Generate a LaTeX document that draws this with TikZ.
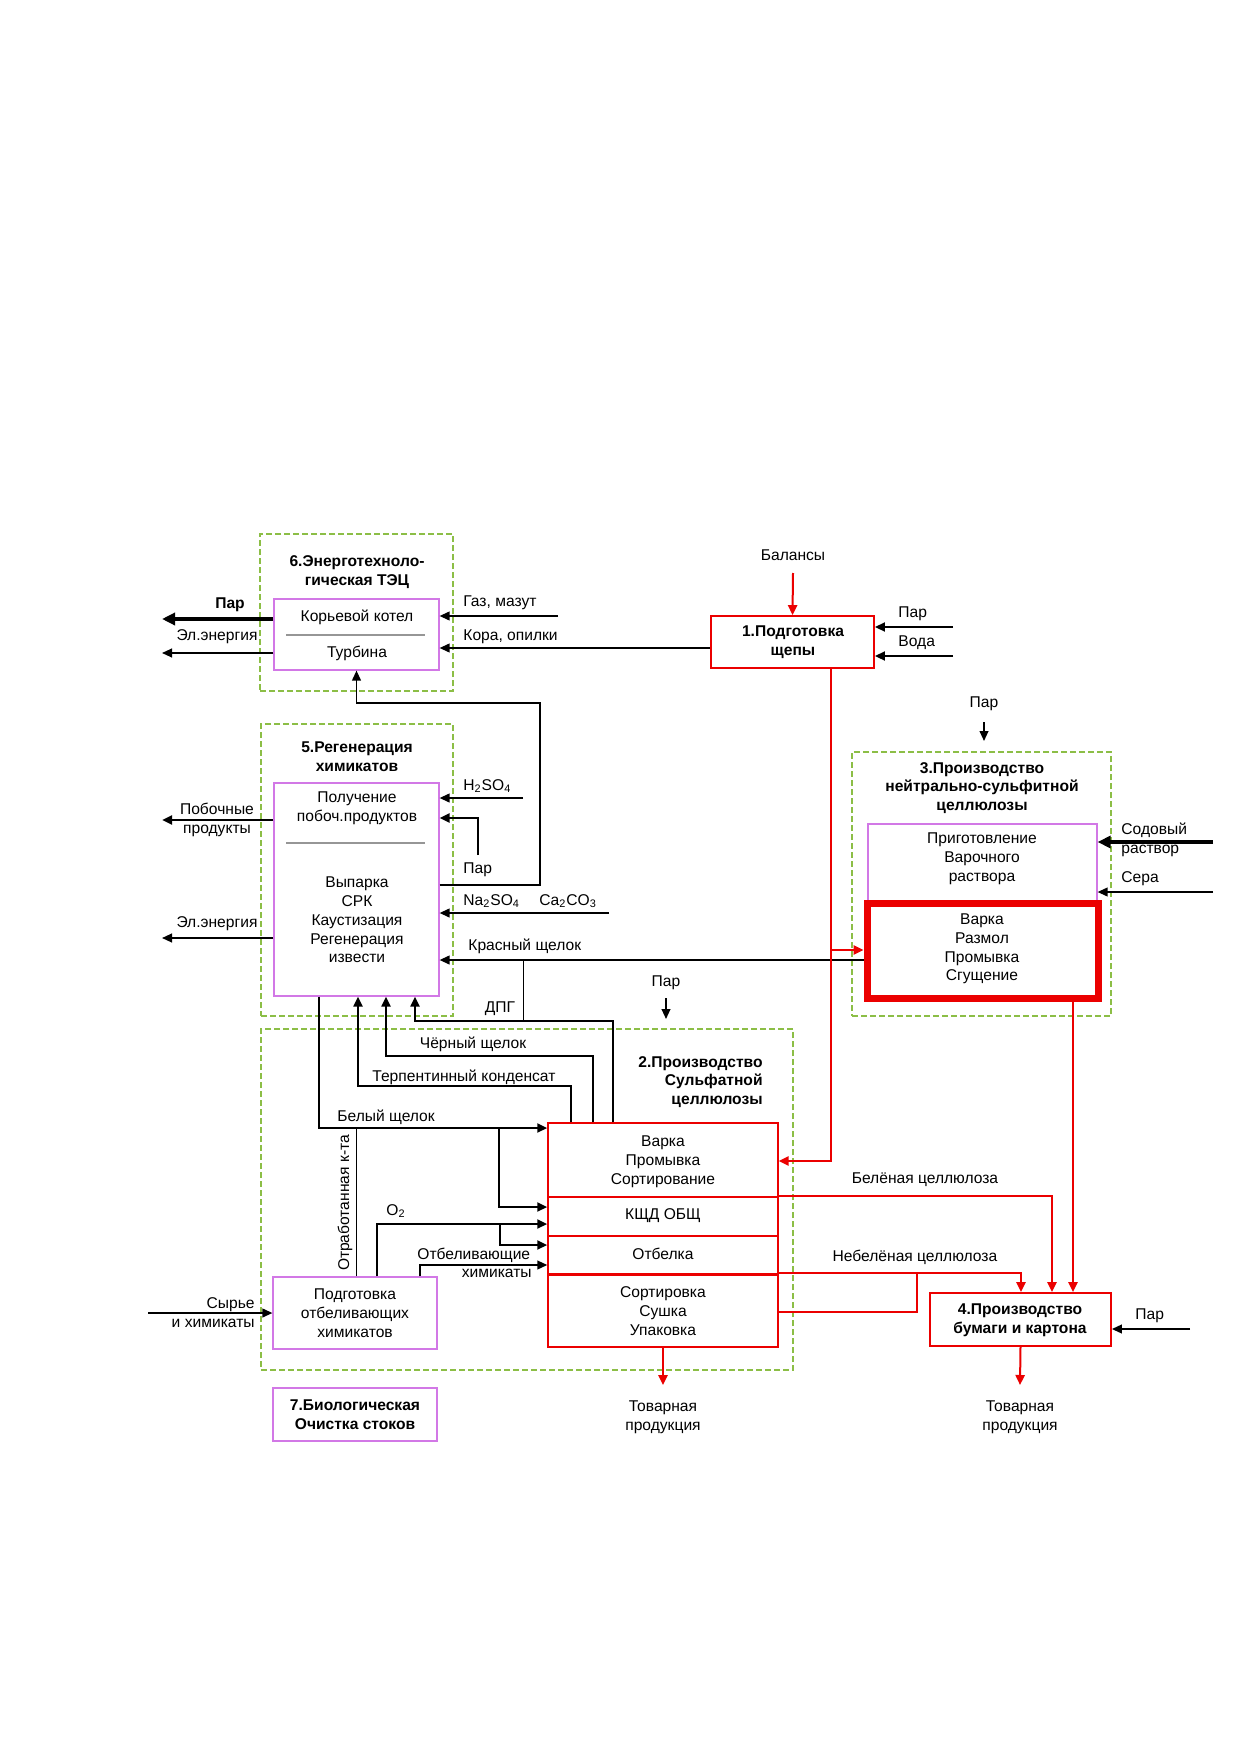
\documentclass[tikz,border=0pt]{standalone}
\usepackage{fontspec}
\setmainfont{Liberation Sans}
\usetikzlibrary{arrows.meta,fit}
\definecolor{grn}{RGB}{140,190,70}
\definecolor{vio}{RGB}{210,120,230}
\definecolor{sepgray}{RGB}{150,150,150}
\definecolor{rd}{RGB}{235,0,0}
\begin{document}
\begin{tikzpicture}[x=0.5pt,y=-0.5pt,
  every node/.style={font=\fontsize{7.8}{9.4}\selectfont, inner sep=0pt, align=center},
  bftxt/.style={font=\fontsize{7.8}{9.4}\selectfont\bfseries},
  grp/.style={draw=grn, dash pattern=on 3pt off 1.5pt, line width=0.6pt},
  vbox/.style={draw=vio, line width=0.6pt},
  rbox/.style={draw=rd, line width=0.7pt},
  ln/.style={draw=black, line width=0.8pt},
  thn/.style={draw=black, line width=0.5pt},
  tk/.style={draw=black, line width=1.3pt},
  vtk/.style={draw=black, line width=2pt},
  arr/.style={-{Triangle[length=5pt,width=4.4pt]}},
  barr/.style={-{Triangle[length=6.5pt,width=6pt]}},
  rl/.style={draw=rd, line width=1pt},
  rarr/.style={rl, -{Triangle[length=5pt,width=4.6pt]}},
]
\useasboundingbox (0,0) rectangle (1240,1754);
\fill[white] (0,0) rectangle (1240,1754);

% ---------- Group 6
\node[grp, fit={(260,534) (453,691)}] (g6) {};
\node[bftxt] (t6) at (357,572) {6.Энерготехноло-\\гическая ТЭЦ};
\node[vbox, fit={(274,599) (439,670)}] (b6) {};
\node (b6a) at (357,617) {Корьевой котел};
\node (b6b) at (357,653) {Турбина};
\draw[sepgray, line width=0.6pt] (286,635) -- (425,635);

% ---------- Group 5
\node[grp, fit={(261,724) (453,1016)}] (g5) {};
\node[bftxt] (t5) at (357,757) {5.Регенерация\\химикатов};
\node[vbox, fit={(274,783) (439,996)}] (b5) {};
\node (b5a) at (357,808) {Получение\\побоч.продуктов};
\draw[sepgray, line width=0.6pt] (286,843) -- (425,843);
\node (b5b) at (357,920) {Выпарка\\СРК\\Каустизация\\Регенерация\\извести};

% ---------- Box 1
\node[rbox, line width=0.9pt, fit={(711,616) (874,668)}] (b1) {};
\node[bftxt] (t1) at (793,642) {1.Подготовка\\щепы};

% ---------- Group 3
\node[grp, fit={(852,752) (1111,1016)}] (g3) {};
\node[bftxt] (t3) at (982,788) {3.Производство\\нейтрально-сульфитной\\целлюлозы};
\node[vbox, fit={(868,824) (1097,902)}] (b3a) {};
\node (t3a) at (982,859) {Приготовление\\Варочного\\раствора};
\node[draw=rd, line width=3.5pt, fit={(867,903) (1098,998)}] (b3b) {};
\node (t3b) at (982,949) {Варка\\Размол\\Промывка\\Сгущение};

% ---------- Group 2
\node[grp, fit={(261,1029) (793,1370)}] (g2) {};
\node[bftxt, align=right, anchor=east] (t2) at (763,1082) {2.Производство\\Сульфатной\\целлюлозы};
\node[rbox, fit={(548,1123) (778,1197)}] (b2a) {};
\node[rbox, fit={(548,1197) (778,1236)}] (b2b) {};
\node[rbox, fit={(548,1236) (778,1274)}] (b2c) {};
\node[rbox, fit={(548,1274) (778,1347)}] (b2d) {};
\draw[rd, line width=1.6pt] (b2c.south west) -- (b2c.south east);
\node (t2a) at (663,1162) {Варка\\Промывка\\Сортирование};
\node (t2b) at (663,1216) {КЩД ОБЩ};
\node (t2c) at (663,1254) {Отбелка};
\node (t2d) at (663,1311) {Сортировка\\Сушка\\Упаковка};

% ---------- bleach prep
\node[vbox, fit={(273,1277) (437,1349)}] (bp) {};
\node (tbp) at (355,1313) {Подготовка\\отбеливающих\\химикатов};

% ---------- Box 4
\node[rbox, line width=0.9pt, fit={(930,1293) (1111,1346)}] (b4) {};
\node[bftxt] (t4) at (1020,1320) {4.Производство\\бумаги и картона};

% ---------- Box 7
\node[vbox, fit={(273,1388) (437,1441)}] (b7) {};
\node[bftxt] (t7) at (355,1415) {7.Биологическая\\Очистка стоков};

% ---------- labels
\node[bftxt] (lpar6) at (230,605) {Пар};
\node (lel6) at (217,637) {Эл.энергия};
\node[anchor=west] (lgaz) at (463,603) {Газ, мазут};
\node[anchor=west] (lkora) at (463,637) {Кора, опилки};
\node (lbal) at (793,555) {Балансы};
\node[anchor=west] (lpar1) at (898,614) {Пар};
\node[anchor=west] (lvoda) at (898,643) {Вода};
\node[anchor=west] (lh2so4) at (463,786) {H\textsubscript{2}SO\textsubscript{4}};
\node[anchor=west] (lpar5) at (463,870) {Пар};
\node[anchor=west] (lna) at (463,901) {Na\textsubscript{2}SO\textsubscript{4}};
\node[anchor=west] (lca) at (539,901) {Ca\textsubscript{2}CO\textsubscript{3}};
\node[anchor=west] (lkr) at (468,946) {Красный щелок};
\node (lpob) at (217,820) {Побочные\\продукты};
\node (lel5) at (217,924) {Эл.энергия};
\node (ldpg) at (500,1009) {ДПГ};
\node (lpar2) at (666,983) {Пар};
\node (lpar3) at (984,704) {Пар};
\node[anchor=west, align=left] (lsod) at (1121,840) {Содовый\\раствор};
\node[anchor=west] (lsera) at (1121,879) {Сера};
\node (lchsh) at (473,1044) {Чёрный щелок};
\node[anchor=west] (lterp) at (372,1077) {Терпентинный конденсат};
\node[anchor=west] (lbel) at (337,1117) {Белый щелок};
\node (lbc) at (925,1180) {Белёная целлюлоза};
\node (lnbc) at (915,1257) {Небелёная целлюлоза};
\node[rotate=90] (lotk) at (345,1203) {Отработанная к-та};
\node[anchor=west] (lo2) at (386,1211) {O\textsubscript{2}};
\node[anchor=west] (lotb) at (417,1255) {Отбеливающие};
\node[anchor=east] (lhim) at (532,1273) {химикаты};
\node[anchor=east, align=right] (lsyr) at (255,1313) {Сырье\\и химикаты};
\node[anchor=west] (lpar4) at (1135,1316) {Пар};
\node (ltov2) at (663,1417) {Товарная\\продукция};
\node (ltov4) at (1020,1417) {Товарная\\продукция};

% ---------- free ends
\coordinate (e6par) at (162,619);
\coordinate (e6el) at (162,653);
\coordinate (egaz) at (558,616);
\coordinate (e5pob) at (162,820);
\coordinate (e5el) at (162,938);
\coordinate (eh2) at (523,798);
\coordinate (epar5) at (478,855);
\coordinate (ena) at (609,913);
\coordinate (epar2) at (666,998);
\coordinate (epar2b) at (666,1019);
\coordinate (epar3) at (984,722);
\coordinate (epar3b) at (984,741);
\coordinate (esod) at (1213,842);
\coordinate (esera) at (1213,892);
\coordinate (epar1) at (953,627);
\coordinate (evoda) at (953,656);
\coordinate (epar4) at (1190,1329);
\coordinate (esyr) at (148,1313);
\coordinate (ebal) at (793,573);
\coordinate (eout2) at (663,1385);
\coordinate (eout4) at (1020,1385);
\coordinate (jdpg1) at (523,960);
\coordinate (jdpg2) at (523,1021);
\coordinate (jbel) at (499,1128);
\coordinate (jo2) at (500,1224);
\coordinate (jotk) at (356,1128);
\coordinate (jred) at (831,950);
\coordinate (jneb) at (917,1274);

% ---------- black connectors
\draw[vtk, barr] (b6.west |- e6par) -- (e6par);
\draw[ln, arr] (b6.west |- e6el) -- (e6el);
\draw[ln, arr] (egaz) -- (b6.east |- egaz);
\draw[ln, arr] (b1.west |- 0,648) -- (b6.east |- 0,648);
\draw[ln, arr] (b5.east |- 0,885) -| (540,703) -| (b6.south);
\draw[ln, arr] (eh2) -- (b5.east |- eh2);
\draw[tk, arr] (epar5) |- (b5.east |- 0,818);
\draw[tk, arr] (b5.west |- e5pob) -- (e5pob);
\draw[ln, arr] (b5.west |- e5el) -- (e5el);
\draw[ln, arr] (ena) -- (b5.east |- ena);
\draw[ln, arr] (b3b.west |- jdpg1) -- (b5.east |- jdpg1);
\draw[thn] (jdpg1) -- (jdpg2);
\draw[tk, arr] (b2a.north -| 613,0) |- (415,1021) -- (b5.south -| 415,0);
\draw[tk, arr] (b2a.north -| 593,0) |- (386,1056) -- (b5.south -| 386,0);
\draw[tk, arr] (b2a.north -| 571,0) |- (358,1086) -- (b5.south -| 358,0);
\draw[tk, arr] (b5.south -| 319,0) |- (b2a.west |- jbel);
\draw[tk, arr] (jbel) |- (b2b.west |- 0,1207);
\draw[tk, arr] (bp.north -| 377,0) |- (b2b.west |- jo2);
\draw[tk, arr] (jo2) |- (b2c.west |- 0,1245);
\draw[ln, arr] (bp.north -| 420,0) |- (b2c.west |- 0,1265);
\draw[thn] (bp.north -| jotk) -- (jotk);
\draw[ln, arr] (esyr) -- (bp.west |- esyr);
\draw[ln, arr] (epar2) -- (epar2b);
\draw[ln, arr] (epar3) -- (epar3b);
\draw[vtk, barr] (esod) -- (b3a.east |- esod);
\draw[ln, arr] (esera) -- (b3a.east |- esera);
\draw[tk, arr] (epar1) -- (b1.east |- epar1);
\draw[tk, arr] (evoda) -- (b1.east |- evoda);
\draw[ln, arr] (epar4) -- (b4.east |- epar4);

% ---------- red connectors
\draw[rarr] (ebal) -- (b1.north);
\draw[rarr] (b1.south -| jred) |- (b2a.east |- 0,1161);
\draw[rarr] (jred) -- (b3b.west |- jred);
\draw[rarr] (b3b.south -| 1073,0) -- (b4.north -| 1073,0);
\draw[rarr] (b2b.north east) -| (b4.north -| 1052,0);
\draw[rarr] (b2d.north east) -| (b4.north -| 1021,0);
\draw[rl] (b2d.east |- 0,1312) -| (jneb);
\draw[rarr] (b2d.south -| eout2) -- (eout2);
\draw[rarr] (b4.south) -- (eout4);
\end{tikzpicture}
\end{document}
